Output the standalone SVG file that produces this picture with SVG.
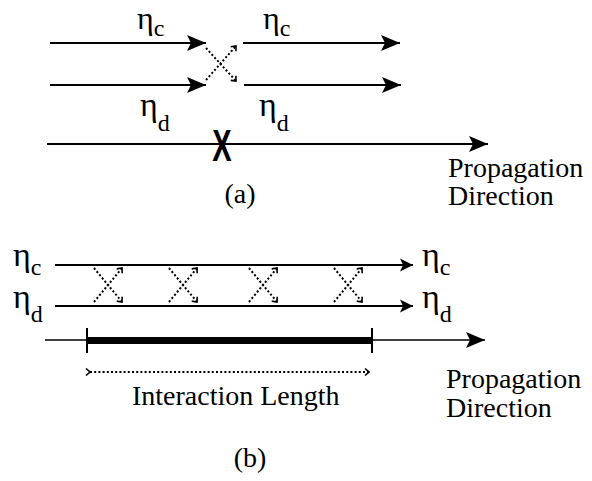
<svg xmlns="http://www.w3.org/2000/svg" width="592" height="481" viewBox="0 0 592 481">
<style>
  .ln{stroke:#000;stroke-width:2;fill:none}
  .thin{stroke:#000;stroke-width:1.6;fill:none}
  .dot{stroke:#000;stroke-width:2;fill:none;stroke-dasharray:2 2.2}
  .t{font-size:28px;fill:#000}
  .eta{font-size:34px;fill:#000}
  .etat{font-size:32px;fill:#000}
  .sub{font-size:24px}
</style>
<defs>
  <marker id="big" markerUnits="userSpaceOnUse" viewBox="-20 -9 21 18" refX="0" refY="0" markerWidth="21" markerHeight="18" orient="auto">
    <path d="M0,0 L-19,-8 L-15,0 L-19,8 Z" fill="#000"/>
  </marker>
  <marker id="small" markerUnits="userSpaceOnUse" viewBox="-14 -8 15 16" refX="0" refY="0" markerWidth="15" markerHeight="16" orient="auto">
    <path d="M0,0 L-13,-6.5 L-10,0 L-13,6.5 Z" fill="#000"/>
  </marker>
  <marker id="tiny" markerUnits="userSpaceOnUse" viewBox="-6 -5 7 10" refX="0" refY="0" markerWidth="7" markerHeight="10" orient="auto">
    <path d="M-4,-3.5 L0,0 L-4,3.5" fill="none" stroke="#000" stroke-width="1.6"/>
  </marker>
</defs>

<g id="connectors">
  <line class="ln" x1="50" y1="43" x2="206" y2="43" marker-end="url(#big)"/>
  <line class="ln" x1="50" y1="85" x2="206" y2="85" marker-end="url(#big)"/>
  <line class="ln" x1="243" y1="43" x2="400" y2="43" marker-end="url(#big)"/>
  <line class="ln" x1="244" y1="85" x2="401" y2="85" marker-end="url(#big)"/>
  <line class="dot" x1="206" y1="48" x2="236" y2="81" marker-end="url(#tiny)"/>
  <line class="dot" x1="206" y1="80" x2="236" y2="46" marker-end="url(#tiny)"/>
  <line class="ln" x1="47" y1="144" x2="488" y2="144" marker-end="url(#big)"/>
  <line class="ln" x1="55" y1="265" x2="413" y2="265" marker-end="url(#small)"/>
  <line class="ln" x1="55" y1="306" x2="413" y2="306" marker-end="url(#small)"/>
  <line class="dot" x1="94" y1="268" x2="122" y2="302" marker-end="url(#tiny)"/>
  <line class="dot" x1="94" y1="302" x2="122" y2="268" marker-end="url(#tiny)"/>
  <line class="dot" x1="169" y1="268" x2="197" y2="302" marker-end="url(#tiny)"/>
  <line class="dot" x1="169" y1="302" x2="197" y2="268" marker-end="url(#tiny)"/>
  <line class="dot" x1="249" y1="268" x2="277" y2="302" marker-end="url(#tiny)"/>
  <line class="dot" x1="249" y1="302" x2="277" y2="268" marker-end="url(#tiny)"/>
  <line class="dot" x1="334" y1="268" x2="362" y2="302" marker-end="url(#tiny)"/>
  <line class="dot" x1="334" y1="302" x2="362" y2="268" marker-end="url(#tiny)"/>
  <line class="thin" x1="45" y1="340" x2="485" y2="340" marker-end="url(#big)"/>
  <line x1="87" y1="340.5" x2="372" y2="340.5" stroke="#000" stroke-width="7"/>
  <line class="ln" x1="87" y1="328" x2="87" y2="353"/>
  <line class="ln" x1="372" y1="328" x2="372" y2="353"/>
  <line class="dot" x1="90" y1="372" x2="369" y2="372" marker-start="url(#tiny)" marker-end="url(#tiny)" style="stroke-width:1.8"/>
</g>

<g id="labels-a" font-family="Liberation Serif, Times New Roman, DejaVu Serif, serif">
  <text class="etat" x="137" y="29">η<tspan class="sub" dy="7">c</tspan></text>
  <text class="etat" x="263" y="29">η<tspan class="sub" dy="7">c</tspan></text>
  <text class="eta" x="140" y="116">η<tspan class="sub" dy="15">d</tspan></text>
  <text class="eta" x="259" y="116">η<tspan class="sub" dy="15">d</tspan></text>
  <text x="0" y="0" transform="translate(222,161) scale(0.66,1)" text-anchor="middle" font-family="Liberation Sans, Arial, sans-serif" font-weight="bold" font-size="44">X</text>
  <text class="t" x="448" y="177">Propagation</text>
  <text class="t" x="448" y="205">Direction</text>
  <text class="t" x="240" y="203" text-anchor="middle">(a)</text>
</g>

<g id="labels-b" font-family="Liberation Serif, Times New Roman, DejaVu Serif, serif">
  <text class="eta" x="13" y="266">η<tspan class="sub" dy="9">c</tspan></text>
  <text class="eta" x="13" y="308">η<tspan class="sub" dy="14">d</tspan></text>
  <text class="eta" x="422" y="266">η<tspan class="sub" dy="9">c</tspan></text>
  <text class="eta" x="422" y="308">η<tspan class="sub" dy="14">d</tspan></text>
  <text class="t" x="132" y="405">Interaction Length</text>
  <text class="t" x="446" y="388">Propagation</text>
  <text class="t" x="446" y="417">Direction</text>
  <text class="t" x="250" y="467" text-anchor="middle">(b)</text>
</g>
</svg>
